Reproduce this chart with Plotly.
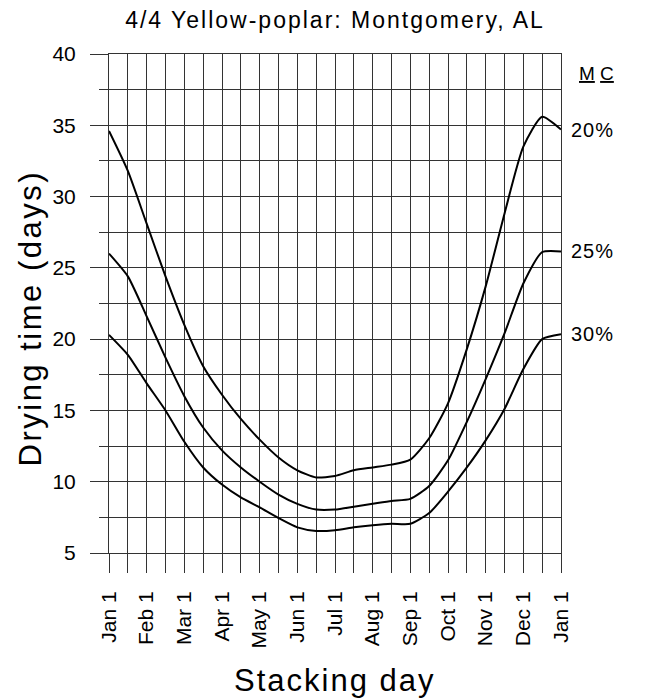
import plotly.graph_objects as go

# half-month positions: 0 = Jan 1, 1 = Feb 1, ..., 12 = Jan 1 (next year)
x_pos = [i * 0.5 for i in range(25)]

mc20 = [34.6, 31.8, 28.1, 24.4, 21.0, 18.1, 16.1, 14.4, 12.95, 11.7, 10.8, 10.3, 10.4,
        10.8, 11.0, 11.2, 11.55, 13.05, 15.5, 19.3, 23.7, 28.8, 33.5, 35.6, 34.7]
mc25 = [26.0, 24.4, 21.6, 18.7, 16.0, 13.8, 12.2, 11.0, 10.0, 9.1, 8.45, 8.05, 8.05,
        8.25, 8.45, 8.65, 8.8, 9.7, 11.5, 14.2, 17.2, 20.4, 23.9, 26.1, 26.15]
mc30 = [20.3, 18.9, 16.9, 15.0, 12.8, 11.0, 9.8, 8.9, 8.2, 7.45, 6.8, 6.55, 6.6,
        6.8, 6.95, 7.05, 7.05, 7.8, 9.3, 11.0, 12.9, 15.1, 17.9, 20.0, 20.35]

series_names = ["20%", "25%", "30%"]
series_vals = [mc20, mc25, mc30]

month_vals = list(range(13))
month_labels = ["Jan 1", "Feb 1", "Mar 1", "Apr 1", "May 1", "Jun 1", "Jul 1",
                "Aug 1", "Sep 1", "Oct 1", "Nov 1", "Dec 1", "Jan 1"]

FONT = "Liberation Sans, Arial, sans-serif"
GRID = "#333333"


def spaced(t, px):
    return '<span style="letter-spacing:%spx">%s</span>' % (px, t)


fig = go.Figure()
for name, vals in zip(series_names, series_vals):
    fig.add_trace(go.Scatter(x=x_pos, y=vals, mode="lines", name=name,
                             line=dict(color="black", width=2, shape="spline", smoothing=0.6),
                             showlegend=False, hoverinfo="skip"))
    fig.add_annotation(x=1.0, xref="paper", y=vals[-1], yref="y", text=spaced(name, 1),
                       showarrow=False, xanchor="left", xshift=8,
                       font=dict(family=FONT, size=20, color="black"))

fig.add_annotation(x=1.0, xref="paper", y=38.6, yref="y",
                   text="<u>M</u>" + spaced(" ", 0) + "<u>C</u>",
                   showarrow=False, xanchor="left", xshift=16,
                   font=dict(family=FONT, size=19, color="black"))

# axis titles as annotations for exact placement
fig.add_annotation(x=0.0, xref="paper", xshift=-79, y=0.47, yref="paper",
                   text=spaced("Drying time (days)", 2.5), textangle=-90, showarrow=False,
                   xanchor="center", yanchor="middle",
                   font=dict(family=FONT, size=31, color="black"))
fig.add_annotation(x=0.5, xref="paper", y=-0.255, yref="paper",
                   text=spaced("Stacking day", 2), showarrow=False,
                   xanchor="center", yanchor="middle",
                   font=dict(family=FONT, size=31, color="black"))

fig.update_layout(
    width=670, height=700,
    margin=dict(l=101, r=117, t=46, b=155),
    paper_bgcolor="white", plot_bgcolor="white",
    title=dict(text=spaced("4/4 Yellow-poplar: Montgomery, AL", 2), x=0.5, xref="paper",
               xanchor="center", y=0.995, yanchor="top",
               font=dict(family=FONT, size=23, color="black")),
    font=dict(family=FONT, color="black"),
)

fig.update_xaxes(
    range=[0, 12], tickmode="array", tickvals=month_vals, ticktext=month_labels,
    tickangle=-90, ticks="outside", ticklen=19, tickcolor=GRID, tickwidth=1,
    ticklabelstandoff=10,
    showgrid=True, gridcolor=GRID, gridwidth=1,
    minor=dict(dtick=0.5, tick0=0, ticks="outside", ticklen=19, tickcolor=GRID,
               showgrid=True, gridcolor=GRID, gridwidth=1),
    showline=True, linecolor=GRID, linewidth=1, mirror=True,
    zeroline=False,
    tickfont=dict(family=FONT, size=21, color="black"),
)

fig.update_yaxes(
    range=[5, 40], dtick=5, tick0=0, ticks="outside", ticklen=18, tickcolor=GRID, tickwidth=1,
    ticklabelstandoff=10,
    showgrid=True, gridcolor=GRID, gridwidth=1,
    minor=dict(dtick=2.5, tick0=0, ticks="outside", ticklen=9, tickcolor=GRID,
               showgrid=True, gridcolor=GRID, gridwidth=1),
    showline=True, linecolor=GRID, linewidth=1, mirror=True,
    zeroline=False,
    tickfont=dict(family=FONT, size=21, color="black"),
)

fig.write_html("out.html")
